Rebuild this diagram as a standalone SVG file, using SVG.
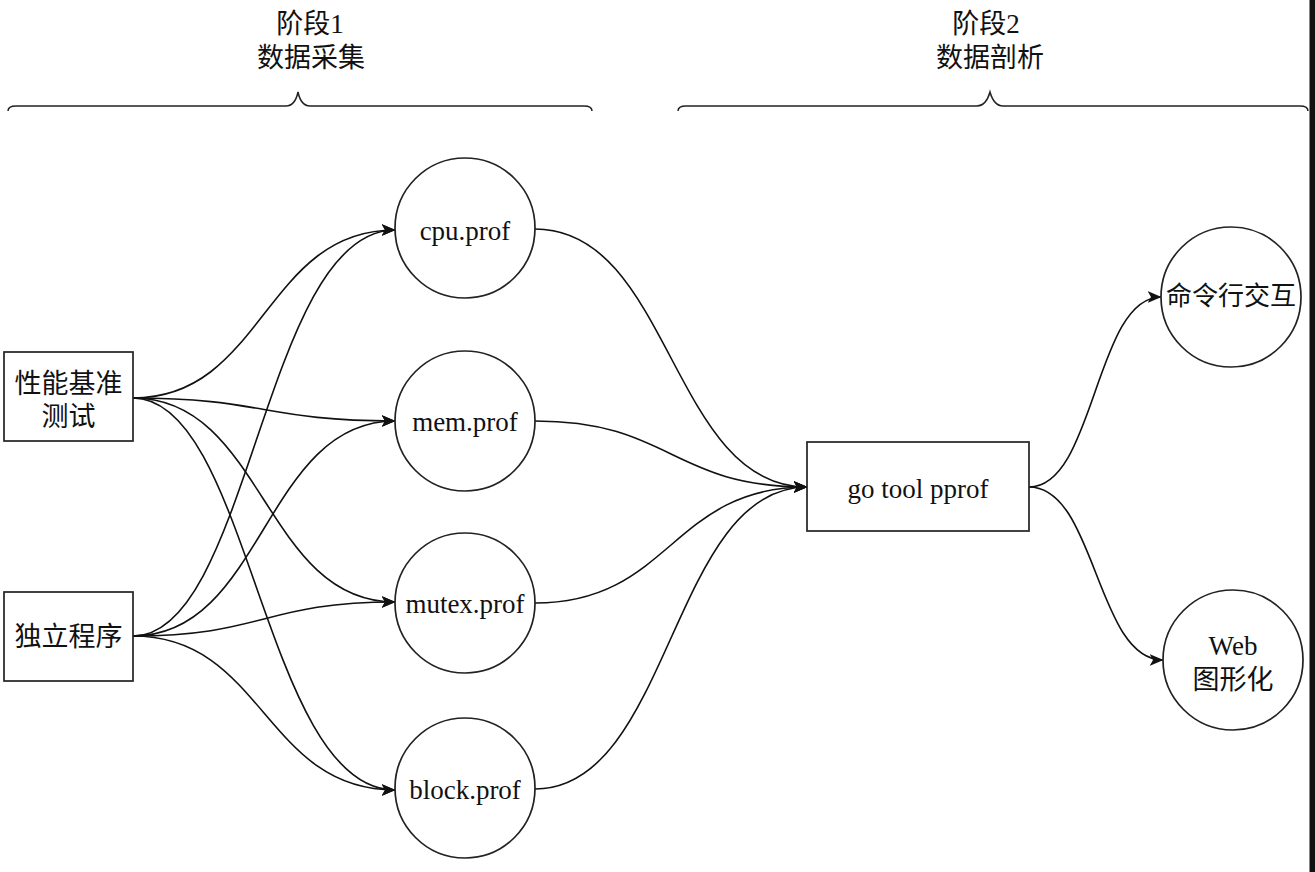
<svg xmlns="http://www.w3.org/2000/svg" width="1315" height="872" viewBox="0 0 1315 872">
<style>
text{font-family:"Liberation Serif","Noto Sans CJK SC",serif;font-size:27px;fill:#111;text-anchor:middle}
.node{fill:#fff;stroke:#222;stroke-width:1.7}
.edge{fill:none;stroke:#111;stroke-width:1.6}
.brace{fill:none;stroke:#222;stroke-width:1.5}
</style>
<defs>
<marker id="arr" markerUnits="userSpaceOnUse" markerWidth="14" markerHeight="12" viewBox="0 0 14 12" refX="13.5" refY="6" orient="auto">
<path d="M0,0 L14,6 L0,12 L3.5,6 Z" fill="#111"/>
</marker>
</defs>
<rect width="1315" height="872" fill="#fff"/>
<rect x="1309.5" y="0" width="5.5" height="872" fill="#111"/>

<g id="stage1">
<text x="310" y="33">阶段1</text>
<text x="311" y="67">数据采集</text>
<path class="brace" d="M8,111 Q8,106 16,106 L286,106 Q295,106 298,92 Q301,106 310,106 L584,106 Q592,106 592,111"/>
</g>
<g id="stage2">
<text x="986" y="33">阶段2</text>
<text x="990" y="67">数据剖析</text>
<path class="brace" d="M678,111 Q678,106 686,106 L977,106 Q986,106 990,92 Q994,106 1003,106 L1300,106 Q1308,106 1308,111"/>
</g>

<g id="connectors">
<path class="edge" marker-end="url(#arr)" d="M133,398 C264,398 264,230 395,230"/>
<path class="edge" marker-end="url(#arr)" d="M133,398 C264,398 264,421 395,421"/>
<path class="edge" marker-end="url(#arr)" d="M133,398 C264,398 264,602 395,602"/>
<path class="edge" marker-end="url(#arr)" d="M133,398 C250,398 264,790 395,790"/>
<path class="edge" marker-end="url(#arr)" d="M133,636 C250,636 264,230 395,230"/>
<path class="edge" marker-end="url(#arr)" d="M133,636 C264,636 264,421 395,421"/>
<path class="edge" marker-end="url(#arr)" d="M133,636 C264,636 264,602 395,602"/>
<path class="edge" marker-end="url(#arr)" d="M133,636 C264,636 264,790 395,790"/>
<path class="edge" marker-end="url(#arr)" d="M535,229 C671,229 671,487 807,487"/>
<path class="edge" marker-end="url(#arr)" d="M535,421 C671,421 671,487 807,487"/>
<path class="edge" marker-end="url(#arr)" d="M535,603 C671,603 671,487 807,487"/>
<path class="edge" marker-end="url(#arr)" d="M535,789 C671,789 671,487 807,487"/>
<path class="edge" marker-end="url(#arr)" d="M1029,487 C1095,487 1095,297 1161,297"/>
<path class="edge" marker-end="url(#arr)" d="M1029,487 C1096,487 1096,660 1163,660"/>
</g>

<g id="bench">
<rect class="node" x="4" y="352" width="129" height="89"/>
<text x="68.5" y="393">性能基准</text>
<text x="68.5" y="426">测试</text>
</g>
<g id="standalone">
<rect class="node" x="4" y="592" width="129" height="89"/>
<text x="68.5" y="646">独立程序</text>
</g>
<g id="cpu">
<circle class="node" cx="465" cy="228" r="70"/>
<text x="465" y="240">cpu.prof</text>
</g>
<g id="mem">
<circle class="node" cx="465" cy="421" r="70"/>
<text x="465" y="431">mem.prof</text>
</g>
<g id="mutex">
<circle class="node" cx="465" cy="603" r="70"/>
<text x="465" y="613">mutex.prof</text>
</g>
<g id="block">
<circle class="node" cx="465" cy="788" r="70"/>
<text x="465" y="799">block.prof</text>
</g>
<g id="pprof">
<rect class="node" x="807" y="442" width="222" height="89"/>
<text x="918" y="498">go tool pprof</text>
</g>
<g id="cli">
<circle class="node" cx="1231" cy="297" r="70"/>
<text x="1231" y="305" style="font-size:26px">命令行交互</text>
</g>
<g id="web">
<circle class="node" cx="1233" cy="660" r="70"/>
<text x="1233" y="655">Web</text>
<text x="1233" y="689">图形化</text>
</g>
</svg>
